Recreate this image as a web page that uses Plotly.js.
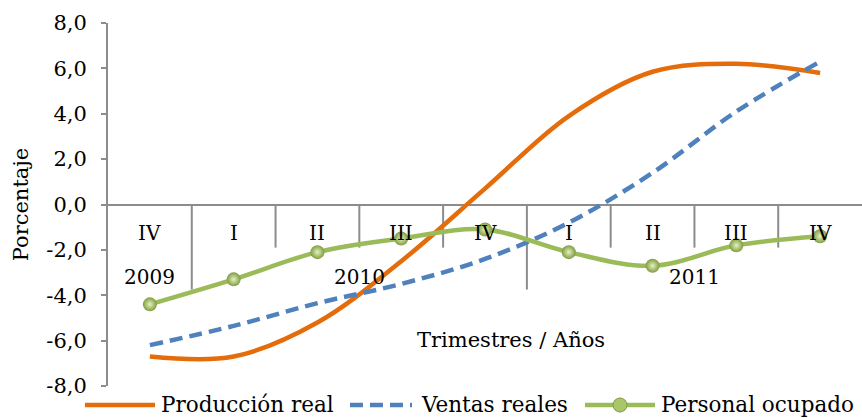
<!DOCTYPE html>
<html>
<head>
<meta charset="utf-8">
<script src="https://cdn.plot.ly/plotly-3.0.1.min.js"></script>
<style>html,body{margin:0;padding:0;background:#fff;}#chart{width:862px;height:418px;}</style>
</head>
<body>
<div id="chart"></div>
<script>
// Data
const quarters = ['IV','I','II','III','IV','I','II','III','IV'];
const years = ['2009','2010','2011'];
const yearSpans = [1, 4, 4];
const seriesNames = ['Producción real', 'Ventas reales', 'Personal ocupado'];
const produccion = [-6.7, -6.7, -5.2, -2.5, 0.7, 3.9, 5.85, 6.2, 5.8];
const ventas = [-6.2, -5.35, -4.35, -3.5, -2.4, -0.8, 1.4, 4.1, 6.3];
const personal = [-4.4, -3.3, -2.1, -1.5, -1.1, -2.1, -2.7, -1.8, -1.4];
const yTicks = [-8, -6, -4, -2, 0, 2, 4, 6, 8];
const xTitle = 'Trimestres / Años';
const yTitle = 'Porcentaje';

const FONT = 'DejaVu Serif, serif';
const idx = quarters.map((_, i) => i);
const gray = '#8c8c8c';
const colors = ['#E46C0A', '#4F81BD', '#9BBB59'];
const dashes = ['solid', '13px,7px', 'solid'];

const traces = [
  {x: idx, y: produccion, name: seriesNames[0], mode: 'lines', type: 'scatter',
   line: {color: colors[0], width: 4.5, shape: 'spline', smoothing: 1}},
  {x: idx, y: ventas, name: seriesNames[1], mode: 'lines', type: 'scatter',
   line: {color: colors[1], width: 4.5, shape: 'spline', smoothing: 1, dash: dashes[1]}},
  {x: idx, y: personal, name: seriesNames[2], mode: 'lines+markers', type: 'scatter',
   line: {color: colors[2], width: 4.5, shape: 'spline', smoothing: 1},
   marker: {size: 14, color: '#7f9c3f', gradient: {type: 'radial', color: '#e4f2bf'}}}
];

const shapes = [];
const annotations = [];
quarters.forEach((q, i) => {
  annotations.push({x: i, y: -1.25, xref: 'x', yref: 'y', text: q, showarrow: false,
    font: {family: FONT, size: 20, color: '#000'}});
});
let start = 0;
const yearBounds = new Set();
years.forEach((yr, k) => {
  const end = start + yearSpans[k] - 1;
  annotations.push({x: (start + end) / 2, y: -3.2, xref: 'x', yref: 'y', text: yr, showarrow: false,
    font: {family: FONT, size: 20, color: '#000'}});
  if (k > 0) yearBounds.add(start - 0.5);
  start = end + 1;
});
for (let i = 0; i < quarters.length - 1; i++) {
  const b = i + 0.5;
  shapes.push({type: 'line', xref: 'x', yref: 'y', x0: b, x1: b, y0: 0,
    y1: yearBounds.has(b) ? -3.75 : -1.9, layer: 'below', line: {color: gray, width: 2}});
}
// x-axis title sits inside the plot, below the category labels
annotations.push({x: 0.535, xref: 'paper', y: -5.97, yref: 'y', text: xTitle, showarrow: false,
  font: {family: FONT, size: 21, color: '#000'}});

// Manual legend (pixel layout converted to paper coordinates)
const M = {l: 108, r: 0, t: 23, b: 32};
const W = 862, H = 418;
const pw = W - M.l - M.r, ph = H - M.t - M.b;
const px = v => (v - M.l) / pw;
const py = v => (H - M.b - v) / ph;
const legY = 405;
const legItems = [
  {x0: 85, x1: 155, tx: 160},
  {x0: 350, x1: 412, tx: 420},
  {x0: 585, x1: 655, tx: 660}
];
legItems.forEach((it, k) => {
  shapes.push({type: 'line', xref: 'paper', yref: 'paper', x0: px(it.x0), x1: px(it.x1),
    y0: py(legY), y1: py(legY), line: {color: colors[k], width: 4.5, dash: dashes[k]}});
  annotations.push({x: px(it.tx), y: py(legY - 1), xref: 'paper', yref: 'paper', xanchor: 'left',
    yanchor: 'middle', text: seriesNames[k], showarrow: false, borderpad: 0,
    font: {family: FONT, size: 21.5, color: '#000'}});
});
// marker sample for the third series
const mc = (legItems[2].x0 + legItems[2].x1) / 2;
shapes.push({type: 'circle', xref: 'paper', yref: 'paper', xsizemode: 'pixel', ysizemode: 'pixel',
  xanchor: px(mc), yanchor: py(legY), x0: -7, x1: 7, y0: -7, y1: 7,
  fillcolor: '#a9c66a', line: {color: '#7f9c3f', width: 1}});

const layout = {
  width: W, height: H,
  margin: {l: M.l, r: M.r, t: M.t, b: M.b, autoexpand: false},
  paper_bgcolor: '#fff', plot_bgcolor: '#fff',
  showlegend: false,
  xaxis: {range: [-0.5, 8.5], showgrid: false, zeroline: false, showline: false,
    showticklabels: false, ticks: '', fixedrange: true},
  yaxis: {range: [-8, 8], tickvals: yTicks, ticktext: yTicks.map(v => v.toFixed(1).replace('.', ',')),
    showgrid: false, zeroline: true, zerolinecolor: gray, zerolinewidth: 2,
    showline: true, linecolor: gray, linewidth: 2, ticks: 'outside', ticklen: 5, tickcolor: gray, tickwidth: 2,
    ticklabelstandoff: 10,
    tickfont: {family: FONT, size: 21, color: '#000'},
    title: {text: yTitle, font: {family: FONT, size: 21, color: '#000'}, standoff: 12},
    automargin: false},
  shapes: shapes,
  annotations: annotations
};

Plotly.newPlot('chart', traces, layout, {displayModeBar: false, staticPlot: true});
</script>
</body>
</html>
